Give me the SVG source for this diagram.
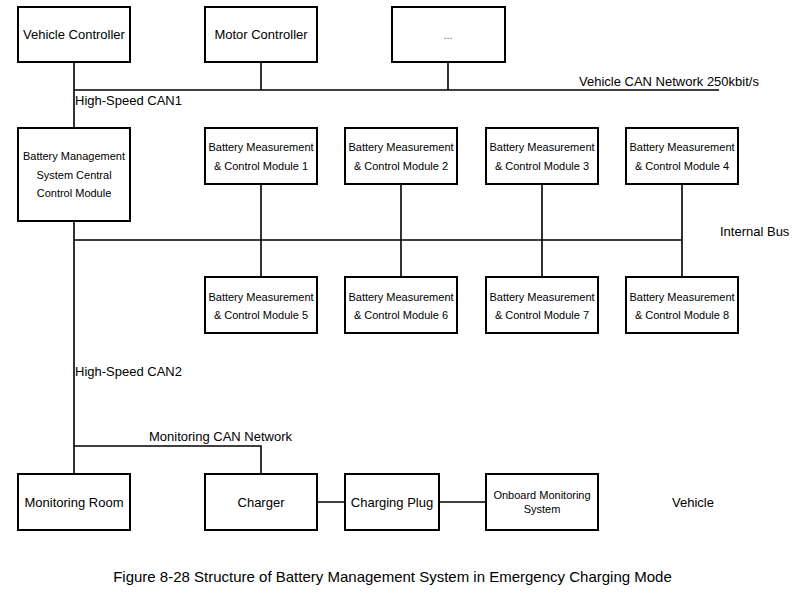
<svg xmlns="http://www.w3.org/2000/svg" width="800" height="594" viewBox="0 0 800 594">
<style>
.box{fill:#fff;stroke:#000;stroke-width:2}
.ln{fill:none;stroke:#000;stroke-width:1.6}
text{font-family:"Liberation Sans",Arial,sans-serif;fill:#000}
.t13{font-size:13px}
.t11{font-size:11px}
.c{text-anchor:middle}
</style>
<rect width="800" height="594" fill="#fff"/>
<g id="connectors">
<path class="ln" d="M74,62 V128 M74,90 H719 M261,62 V90 M448,62 V90"/>
<path class="ln" d="M74,221 V474 M74,240 H682"/>
<path class="ln" d="M261,184 V277 M401,184 V277 M542,184 V277 M682,184 V277"/>
<path class="ln" d="M74,446 H261 V474"/>
<path class="ln" d="M317,502 H345 M439,502 H485"/>
</g>
<g id="vehicle-controller"><rect class="box" x="18" y="7" width="112" height="55"/><text class="t13 c" x="74" y="39">Vehicle Controller</text></g>
<g id="motor-controller"><rect class="box" x="205" y="7" width="112" height="55"/><text class="t13 c" x="261" y="39">Motor Controller</text></g>
<g id="other-controller"><rect class="box" x="392" y="7" width="113" height="55"/><text class="t11 c" x="448" y="39" style="fill:#555">...</text></g>
<g id="bms-central"><rect class="box" x="18" y="128" width="112" height="93"/><text class="t11 c" x="74" y="160">Battery Management</text><text class="t11 c" x="74" y="179">System Central</text><text class="t11 c" x="74" y="197">Control Module</text></g>
<g id="bmcm1"><rect class="box" x="205" y="128" width="112" height="56"/><text class="t11 c" x="261" y="151">Battery Measurement</text><text class="t11 c" x="261" y="170">&amp; Control Module 1</text></g>
<g id="bmcm2"><rect class="box" x="345" y="128" width="112" height="56"/><text class="t11 c" x="401" y="151">Battery Measurement</text><text class="t11 c" x="401" y="170">&amp; Control Module 2</text></g>
<g id="bmcm3"><rect class="box" x="486" y="128" width="112" height="56"/><text class="t11 c" x="542" y="151">Battery Measurement</text><text class="t11 c" x="542" y="170">&amp; Control Module 3</text></g>
<g id="bmcm4"><rect class="box" x="626" y="128" width="112" height="56"/><text class="t11 c" x="682" y="151">Battery Measurement</text><text class="t11 c" x="682" y="170">&amp; Control Module 4</text></g>
<g id="bmcm5"><rect class="box" x="205" y="277" width="112" height="56"/><text class="t11 c" x="261" y="301">Battery Measurement</text><text class="t11 c" x="261" y="319">&amp; Control Module 5</text></g>
<g id="bmcm6"><rect class="box" x="345" y="277" width="112" height="56"/><text class="t11 c" x="401" y="301">Battery Measurement</text><text class="t11 c" x="401" y="319">&amp; Control Module 6</text></g>
<g id="bmcm7"><rect class="box" x="486" y="277" width="112" height="56"/><text class="t11 c" x="542" y="301">Battery Measurement</text><text class="t11 c" x="542" y="319">&amp; Control Module 7</text></g>
<g id="bmcm8"><rect class="box" x="626" y="277" width="112" height="56"/><text class="t11 c" x="682" y="301">Battery Measurement</text><text class="t11 c" x="682" y="319">&amp; Control Module 8</text></g>
<g id="monitoring-room"><rect class="box" x="18" y="474" width="112" height="56"/><text class="t13 c" x="74" y="507">Monitoring Room</text></g>
<g id="charger"><rect class="box" x="205" y="474" width="112" height="56"/><text class="t13 c" x="261" y="507">Charger</text></g>
<g id="charging-plug"><rect class="box" x="345" y="474" width="94" height="56"/><text class="t13 c" x="392" y="507">Charging Plug</text></g>
<g id="onboard-monitoring"><rect class="box" x="486" y="474" width="112" height="56"/><text class="t11 c" x="542" y="499">Onboard Monitoring</text><text class="t11 c" x="542" y="513">System</text></g>
<g id="labels">
<text class="t13" x="579" y="86">Vehicle CAN Network 250kbit/s</text>
<text class="t13" x="75" y="105">High-Speed CAN1</text>
<text class="t13" x="720" y="236">Internal Bus</text>
<text class="t13" x="75" y="376">High-Speed CAN2</text>
<text class="t13" x="149" y="441">Monitoring CAN Network</text>
<text class="t13" x="672" y="507">Vehicle</text>
<text class="c" x="392.5" y="582" style="font-size:15px">Figure 8-28 Structure of Battery Management System in Emergency Charging Mode</text>
</g>
</svg>
